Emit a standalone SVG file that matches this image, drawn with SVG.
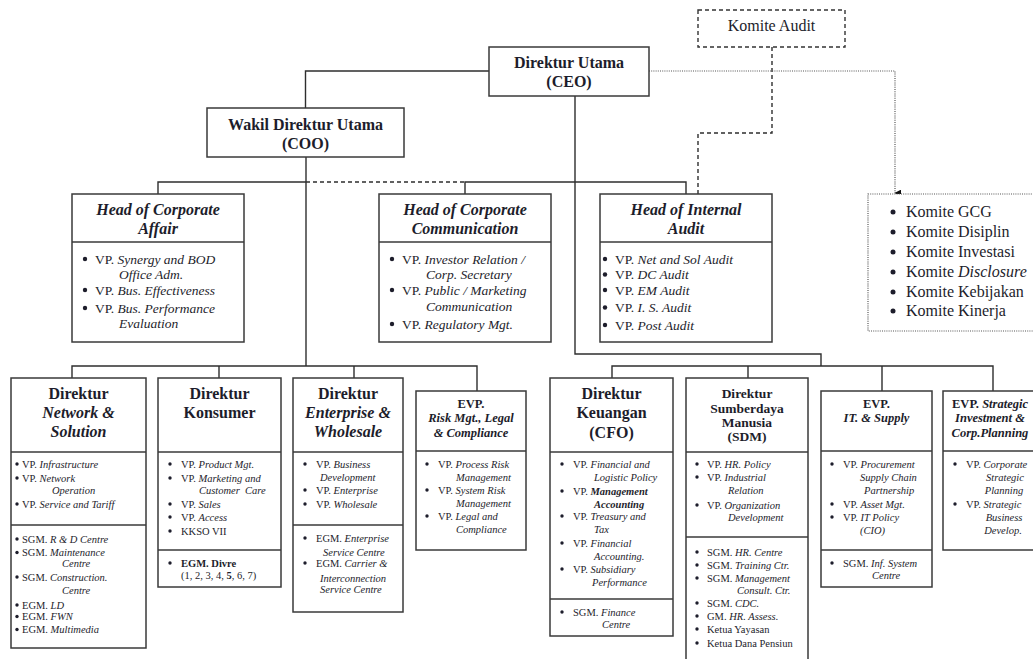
<svg xmlns="http://www.w3.org/2000/svg" width="1033" height="659" viewBox="0 0 1033 659">
<defs>
<style>
text{font-family:"Liberation Serif","Times New Roman",serif;fill:#1d1d2b}
.box{fill:#fff;stroke:#3a3a3a;stroke-width:1.5}
.div{stroke:#3a3a3a;stroke-width:1.5}
.ln{fill:none;stroke:#2e2e2e;stroke-width:1.4}
.dash{fill:none;stroke:#2e2e2e;stroke-width:1.4;stroke-dasharray:4,3}
.dot{fill:none;stroke:#555;stroke-width:1.2;stroke-dasharray:1,1.2}
.t16{font-size:16px;font-weight:bold;text-anchor:middle}
.t13{font-size:13.5px;font-weight:bold;text-anchor:middle}
.t12{font-size:12.5px;font-weight:bold;text-anchor:middle}
.h{font-size:16px;font-weight:bold;font-style:italic;text-anchor:middle}
.m{font-size:13.5px}
.s{font-size:10.5px}
.k{font-size:16px}
.i{font-style:italic}
.bi{font-style:italic;font-weight:bold}
.b{font-weight:bold}
.bl{fill:#1d1d2b}
</style>
<marker id="arr" viewBox="0 0 10 10" refX="5" refY="9" markerWidth="7" markerHeight="7" orient="auto-start-reverse" markerUnits="userSpaceOnUse">
<path d="M0,0 L10,0 L5,10 Z" fill="#111"/>
</marker>
</defs>

<g id="connectors">
<path class="ln" d="M489,71 H305.5 V108"/>
<path class="ln" d="M306,157 V366"/>
<path class="ln" d="M158,194 V182 H306"/>
<path class="dash" d="M306,182 H465"/>
<path class="ln" d="M465,194 V182 H686 V194"/>
<path class="ln" d="M575,96 V354 H821 V366"/>
<path class="ln" d="M72,378 V366 H477 V391"/>
<path class="ln" d="M219,366 V378 M354,366 V378"/>
<path class="ln" d="M612,378 V366 H993 V391"/>
<path class="ln" d="M748,366 V378 M882,366 V391"/>
<path class="dash" d="M772,47 V133 H698 V194"/>
<path class="dot" d="M649,71 H895 V193" marker-end="url(#arr)"/>
</g>

<g id="komite-audit">
<rect x="698" y="10" width="147" height="37" fill="#fff" stroke="#333" stroke-width="1.4" stroke-dasharray="4,3"/>
<text class="k" x="771.5" y="30.5" text-anchor="middle">Komite Audit</text>
</g>

<g id="ceo">
<rect class="box" x="489" y="47" width="160" height="49"/>
<text class="t16" x="569" y="67.5">Direktur Utama</text>
<text class="t16" x="569" y="86.5">(CEO)</text>
</g>

<g id="coo">
<rect class="box" x="207" y="108" width="197" height="49"/>
<text class="t16" x="305.5" y="129.5">Wakil Direktur Utama</text>
<text class="t16" x="305.5" y="148.5">(COO)</text>
</g>

<g id="corp-affair">
<rect class="box" x="72" y="194" width="172" height="148"/>
<line class="div" x1="72" y1="242" x2="244" y2="242"/>
<text class="h" x="158" y="215">Head of Corporate</text>
<text class="h" x="158" y="234">Affair</text>
<circle class="bl" cx="85" cy="259" r="2.2"/>
<text class="m" x="95" y="263.5">VP. <tspan class="i">Synergy and BOD</tspan></text>
<text class="m i" x="119" y="278.5">Office Adm.</text>
<circle class="bl" cx="85" cy="290" r="2.2"/>
<text class="m" x="95" y="294.5">VP. <tspan class="i">Bus. Effectiveness</tspan></text>
<circle class="bl" cx="85" cy="308" r="2.2"/>
<text class="m" x="95" y="312.5">VP. <tspan class="i">Bus. Performance</tspan></text>
<text class="m i" x="119" y="327.5">Evaluation</text>
</g>

<g id="corp-comm">
<rect class="box" x="379" y="194" width="172" height="148"/>
<line class="div" x1="379" y1="242" x2="551" y2="242"/>
<text class="h" x="465" y="215">Head of Corporate</text>
<text class="h" x="465" y="234">Communication</text>
<circle class="bl" cx="392" cy="259" r="2.2"/>
<text class="m" x="402" y="263.5">VP. <tspan class="i">Investor Relation /</tspan></text>
<text class="m i" x="426" y="278.5">Corp. Secretary</text>
<circle class="bl" cx="392" cy="290" r="2.2"/>
<text class="m" x="402" y="294.5">VP. <tspan class="i">Public / Marketing</tspan></text>
<text class="m i" x="426" y="310.5">Communication</text>
<circle class="bl" cx="392" cy="324" r="2.2"/>
<text class="m" x="402" y="328.5">VP. <tspan class="i">Regulatory Mgt.</tspan></text>
</g>

<g id="internal-audit">
<rect class="box" x="600" y="194" width="172" height="148"/>
<line class="div" x1="600" y1="242" x2="772" y2="242"/>
<text class="h" x="686" y="215">Head of Internal</text>
<text class="h" x="686" y="234">Audit</text>
<circle class="bl" cx="605" cy="259" r="2.2"/>
<text class="m" x="615" y="263.5">VP. <tspan class="i">Net and Sol Audit</tspan></text>
<circle class="bl" cx="605" cy="274.5" r="2.2"/>
<text class="m" x="615" y="279">VP. <tspan class="i">DC Audit</tspan></text>
<circle class="bl" cx="605" cy="290" r="2.2"/>
<text class="m" x="615" y="294.5">VP. <tspan class="i">EM Audit</tspan></text>
<circle class="bl" cx="605" cy="307.5" r="2.2"/>
<text class="m" x="615" y="312">VP. <tspan class="i">I. S. Audit</tspan></text>
<circle class="bl" cx="605" cy="325" r="2.2"/>
<text class="m" x="615" y="329.5">VP. <tspan class="i">Post Audit</tspan></text>
</g>

<g id="komite-list">
<rect x="868" y="194" width="170" height="137" fill="#fff" stroke="#555" stroke-width="1.2" stroke-dasharray="1,1.2"/>
<circle class="bl" cx="893" cy="212" r="2.5"/>
<text class="k" x="906" y="217">Komite GCG</text>
<circle class="bl" cx="893" cy="232" r="2.5"/>
<text class="k" x="906" y="237">Komite Disiplin</text>
<circle class="bl" cx="893" cy="252" r="2.5"/>
<text class="k" x="906" y="257">Komite Investasi</text>
<circle class="bl" cx="893" cy="272" r="2.5"/>
<text class="k" x="906" y="277">Komite <tspan class="i">Disclosure</tspan></text>
<circle class="bl" cx="893" cy="292" r="2.5"/>
<text class="k" x="906" y="297">Komite Kebijakan</text>
<circle class="bl" cx="893" cy="311" r="2.5"/>
<text class="k" x="906" y="316">Komite Kinerja</text>
</g>

<g id="dir-network">
<rect class="box" x="11" y="378" width="135" height="270"/>
<line class="div" x1="11" y1="452" x2="146" y2="452"/>
<line class="div" x1="11" y1="525" x2="146" y2="525"/>
<text class="t16" x="78.5" y="398.5">Direktur</text>
<text class="h" x="78.5" y="417.5">Network &amp;</text>
<text class="h" x="78.5" y="436.5">Solution</text>
<circle class="bl" cx="17" cy="464" r="1.7"/>
<text class="s" x="22" y="467.7">VP. <tspan class="i">Infrastructure</tspan></text>
<circle class="bl" cx="17" cy="478" r="1.7"/>
<text class="s" x="22" y="481.7">VP. <tspan class="i">Network</tspan></text>
<text class="s i" x="52" y="493.7">Operation</text>
<circle class="bl" cx="17" cy="504" r="1.7"/>
<text class="s" x="22" y="507.7">VP. <tspan class="i">Service and Tariff</tspan></text>
<circle class="bl" cx="17" cy="539" r="1.7"/>
<text class="s" x="22" y="542.7">SGM. <tspan class="i">R &amp; D Centre</tspan></text>
<circle class="bl" cx="17" cy="552.5" r="1.7"/>
<text class="s" x="22" y="556.2">SGM. <tspan class="i">Maintenance</tspan></text>
<text class="s i" x="62" y="566.7">Centre</text>
<circle class="bl" cx="17" cy="577" r="1.7"/>
<text class="s" x="22" y="580.7">SGM. <tspan class="i">Construction.</tspan></text>
<text class="s i" x="62" y="593.7">Centre</text>
<circle class="bl" cx="17" cy="605" r="1.7"/>
<text class="s" x="22" y="608.7">EGM. <tspan class="i">LD</tspan></text>
<circle class="bl" cx="17" cy="616.5" r="1.7"/>
<text class="s" x="22" y="620.2">EGM. <tspan class="i">FWN</tspan></text>
<circle class="bl" cx="17" cy="629.5" r="1.7"/>
<text class="s" x="22" y="633.2">EGM. <tspan class="i">Multimedia</tspan></text>
</g>

<g id="dir-konsumer">
<rect class="box" x="158" y="378" width="123" height="209"/>
<line class="div" x1="158" y1="452" x2="281" y2="452"/>
<line class="div" x1="158" y1="550" x2="281" y2="550"/>
<text class="t16" x="219.5" y="398.5">Direktur</text>
<text class="t16" x="219.5" y="417.5">Konsumer</text>
<circle class="bl" cx="170" cy="464" r="1.7"/>
<text class="s" x="181" y="467.7">VP. <tspan class="i">Product Mgt.</tspan></text>
<circle class="bl" cx="170" cy="478" r="1.7"/>
<text class="s" x="181" y="481.7">VP. <tspan class="i">Marketing and</tspan></text>
<text class="s i" x="199" y="493.7" xml:space="preserve">Customer  Care</text>
<circle class="bl" cx="170" cy="504" r="1.7"/>
<text class="s" x="181" y="507.7">VP. <tspan class="i">Sales</tspan></text>
<circle class="bl" cx="170" cy="517" r="1.7"/>
<text class="s" x="181" y="520.7">VP. <tspan class="i">Access</tspan></text>
<circle class="bl" cx="170" cy="531" r="1.7"/>
<text class="s" x="181" y="534.7">KKSO VII</text>
<circle class="bl" cx="170" cy="563" r="1.7"/>
<text class="s b" x="181" y="566.7">EGM. Divre</text>
<text class="s" x="181" y="578.7">(1, 2, 3, 4, <tspan class="b">5</tspan>, 6, 7)</text>
</g>

<g id="dir-enterprise">
<rect class="box" x="293" y="378" width="110" height="234"/>
<line class="div" x1="293" y1="452" x2="403" y2="452"/>
<line class="div" x1="293" y1="525" x2="403" y2="525"/>
<text class="t16" x="348" y="398.5">Direktur</text>
<text class="h" x="348" y="417.5">Enterprise &amp;</text>
<text class="h" x="348" y="436.5">Wholesale</text>
<circle class="bl" cx="305" cy="464" r="1.7"/>
<text class="s" x="316" y="467.7">VP. <tspan class="i">Business</tspan></text>
<text class="s i" x="320" y="480.7">Development</text>
<circle class="bl" cx="305" cy="490" r="1.7"/>
<text class="s" x="316" y="493.7">VP. <tspan class="i">Enterprise</tspan></text>
<circle class="bl" cx="305" cy="504" r="1.7"/>
<text class="s" x="316" y="507.7">VP. <tspan class="i">Wholesale</tspan></text>
<circle class="bl" cx="305" cy="538" r="1.7"/>
<text class="s" x="316" y="541.7">EGM. <tspan class="i">Enterprise</tspan></text>
<text class="s i" x="323" y="555.7">Service Centre</text>
<circle class="bl" cx="305" cy="563" r="1.7"/>
<text class="s" x="316" y="566.7">EGM. <tspan class="i">Carrier &amp;</tspan></text>
<text class="s i" x="320" y="581.7">Interconnection</text>
<text class="s i" x="320" y="592.7">Service Centre</text>
</g>

<g id="evp-risk">
<rect class="box" x="416" y="391" width="110" height="159"/>
<line class="div" x1="416" y1="451" x2="526" y2="451"/>
<text class="t12" x="471" y="407.5">EVP.</text>
<text class="t12 i" x="471" y="422">Risk Mgt., Legal</text>
<text class="t12 i" x="471" y="436.5">&amp; Compliance</text>
<circle class="bl" cx="427" cy="464" r="1.7"/>
<text class="s" x="438" y="467.7">VP. <tspan class="i">Process Risk</tspan></text>
<text class="s i" x="456" y="480.7">Management</text>
<circle class="bl" cx="427" cy="490" r="1.7"/>
<text class="s" x="438" y="493.7">VP. <tspan class="i">System Risk</tspan></text>
<text class="s i" x="456" y="506.7">Management</text>
<circle class="bl" cx="427" cy="516" r="1.7"/>
<text class="s" x="438" y="519.7">VP. <tspan class="i">Legal and</tspan></text>
<text class="s i" x="456" y="532.7">Compliance</text>
</g>

<g id="dir-keuangan">
<rect class="box" x="550" y="378" width="123" height="258"/>
<line class="div" x1="550" y1="452" x2="673" y2="452"/>
<line class="div" x1="550" y1="599" x2="673" y2="599"/>
<text class="t16" x="611.5" y="398.5">Direktur</text>
<text class="t16" x="611.5" y="417.5">Keuangan</text>
<text class="t16" x="611.5" y="438">(CFO)</text>
<circle class="bl" cx="562" cy="464" r="1.7"/>
<text class="s" x="573" y="467.7">VP. <tspan class="i">Financial and</tspan></text>
<text class="s i" x="594" y="480.7">Logistic Policy</text>
<circle class="bl" cx="562" cy="491" r="1.7"/>
<text class="s" x="573" y="494.7">VP. <tspan class="bi">Management</tspan></text>
<text class="s bi" x="594" y="507.7">Accounting</text>
<circle class="bl" cx="562" cy="516" r="1.7"/>
<text class="s" x="573" y="519.7">VP. <tspan class="i">Treasury and</tspan></text>
<text class="s i" x="594" y="532.7">Tax</text>
<circle class="bl" cx="562" cy="543" r="1.7"/>
<text class="s" x="573" y="546.7">VP. <tspan class="i">Financial</tspan></text>
<text class="s i" x="594" y="559.7">Accounting.</text>
<circle class="bl" cx="562" cy="569" r="1.7"/>
<text class="s" x="573" y="572.7">VP. <tspan class="i">Subsidiary</tspan></text>
<text class="s i" x="592" y="585.7">Performance</text>
<circle class="bl" cx="562" cy="612" r="1.7"/>
<text class="s" x="573" y="615.7">SGM. <tspan class="i">Finance</tspan></text>
<text class="s i" x="602" y="627.7">Centre</text>
</g>

<g id="dir-sdm">
<rect class="box" x="686" y="378" width="122" height="290"/>
<line class="div" x1="686" y1="452" x2="808" y2="452"/>
<line class="div" x1="686" y1="537" x2="808" y2="537"/>
<text class="t13" x="747" y="398">Direktur</text>
<text class="t13" x="747" y="413">Sumberdaya</text>
<text class="t13" x="747" y="427">Manusia</text>
<text class="t13" x="747" y="441">(SDM)</text>
<circle class="bl" cx="697" cy="464" r="1.7"/>
<text class="s" x="707" y="467.7">VP. <tspan class="i">HR. Policy</tspan></text>
<circle class="bl" cx="697" cy="477" r="1.7"/>
<text class="s" x="707" y="480.7">VP. <tspan class="i">Industrial</tspan></text>
<text class="s i" x="728" y="493.7">Relation</text>
<circle class="bl" cx="697" cy="505" r="1.7"/>
<text class="s" x="707" y="508.7">VP. <tspan class="i">Organization</tspan></text>
<text class="s i" x="728" y="520.7">Development</text>
<circle class="bl" cx="697" cy="552" r="1.7"/>
<text class="s" x="707" y="555.7">SGM. <tspan class="i">HR. Centre</tspan></text>
<circle class="bl" cx="697" cy="565" r="1.7"/>
<text class="s" x="707" y="568.7">SGM. <tspan class="i">Training Ctr.</tspan></text>
<circle class="bl" cx="697" cy="578" r="1.7"/>
<text class="s" x="707" y="581.7">SGM. <tspan class="i">Management</tspan></text>
<text class="s i" x="737" y="593.7">Consult. Ctr.</text>
<circle class="bl" cx="697" cy="603" r="1.7"/>
<text class="s" x="707" y="606.7">SGM. <tspan class="i">CDC.</tspan></text>
<circle class="bl" cx="697" cy="616" r="1.7"/>
<text class="s" x="707" y="619.7">GM. <tspan class="i">HR. Assess.</tspan></text>
<circle class="bl" cx="697" cy="629" r="1.7"/>
<text class="s" x="707" y="632.7">Ketua Yayasan</text>
<circle class="bl" cx="697" cy="643" r="1.7"/>
<text class="s" x="707" y="646.7">Ketua Dana Pensiun</text>
</g>

<g id="evp-it">
<rect class="box" x="821" y="391" width="111" height="196"/>
<line class="div" x1="821" y1="451" x2="932" y2="451"/>
<line class="div" x1="821" y1="550" x2="932" y2="550"/>
<text class="t12" x="876.5" y="407.5">EVP.</text>
<text class="t12 i" x="876.5" y="422">IT. &amp; Supply</text>
<circle class="bl" cx="832" cy="464" r="1.7"/>
<text class="s" x="843" y="467.7">VP. <tspan class="i">Procurement</tspan></text>
<text class="s i" x="860" y="480.7">Supply Chain</text>
<text class="s i" x="864" y="493.7">Partnership</text>
<circle class="bl" cx="832" cy="504" r="1.7"/>
<text class="s" x="843" y="507.7">VP. <tspan class="i">Asset Mgt.</tspan></text>
<circle class="bl" cx="832" cy="517" r="1.7"/>
<text class="s" x="843" y="520.7">VP. <tspan class="i">IT Policy</tspan></text>
<text class="s i" x="860" y="533.7">(CIO)</text>
<circle class="bl" cx="832" cy="563" r="1.7"/>
<text class="s" x="843" y="566.7">SGM. <tspan class="i">Inf. System</tspan></text>
<text class="s i" x="872" y="578.7">Centre</text>
</g>

<g id="evp-strategic">
<rect class="box" x="943" y="391" width="95" height="159"/>
<line class="div" x1="943" y1="451" x2="1038" y2="451"/>
<text class="t12" x="990" y="407.5">EVP. <tspan class="i">Strategic</tspan></text>
<text class="t12 i" x="990" y="422">Investment &amp;</text>
<text class="t12 i" x="990" y="436.5">Corp.Planning</text>
<circle class="bl" cx="955" cy="464" r="1.7"/>
<text class="s" x="966" y="467.7">VP. <tspan class="i">Corporate</tspan></text>
<text class="s i" x="1005" y="480.7" text-anchor="middle">Strategic</text>
<text class="s i" x="1004" y="493.7" text-anchor="middle">Planning</text>
<circle class="bl" cx="955" cy="504" r="1.7"/>
<text class="s" x="966" y="507.7">VP. <tspan class="i">Strategic</tspan></text>
<text class="s i" x="1004" y="520.7" text-anchor="middle">Business</text>
<text class="s i" x="1003" y="533.7" text-anchor="middle">Develop.</text>
</g>
</svg>
